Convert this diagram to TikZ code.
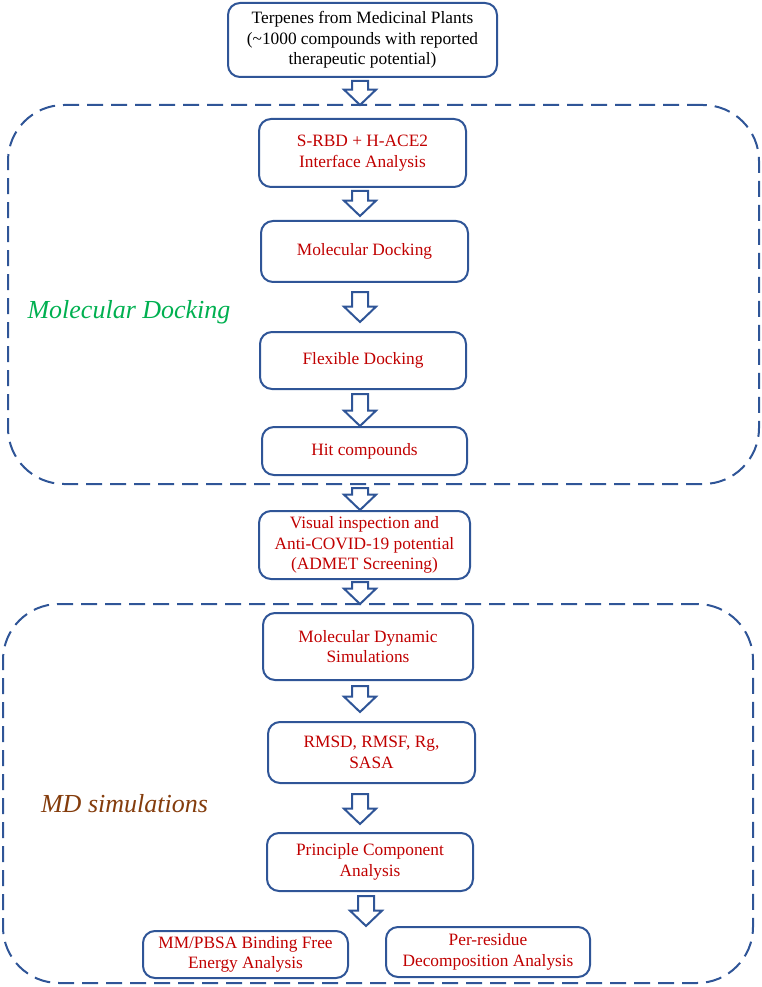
\documentclass[tikz,border=0pt]{standalone}
\usepackage{fontspec}
\setmainfont{Liberation Serif}
\usepackage{tikz}
\usetikzlibrary{calc}
\definecolor{flowblue}{RGB}{47,85,151}
\definecolor{flowred}{RGB}{192,0,0}
\definecolor{dockgreen}{RGB}{0,176,80}
\definecolor{mdbrown}{RGB}{132,60,12}
\tikzset{
	box/.style={draw=flowblue, line width=1.5pt, rounded corners=9pt, align=center, text=flowred, inner sep=0pt, font=\fontsize{13}{15.5}\selectfont},
	zone/.style={draw=flowblue, line width=1.5pt, dash pattern=on 12pt off 6pt, rounded corners=42pt, inner sep=0pt, outer sep=0pt},
	flowarrow/.style={draw=flowblue, fill=white, line width=1.5pt, line join=miter},
	zonelabel/.style={anchor=base, font=\fontsize{19.5}{22}\selectfont\itshape}
}
\newcommand{\blockarrow}[2]{\draw[flowarrow] let \p1=(#1), \p2=(#2) in (\x1-6pt,\y1) -- (\x1+6pt,\y1) -- (\x1+6pt,\y2+11.5pt) -- (\x1+12pt,\y2+11.5pt) -- (\x1,\y2) -- (\x1-12pt,\y2+11.5pt) -- (\x1-6pt,\y2+11.5pt) -- cycle;}

\begin{document}
\begin{tikzpicture}[x=0.75pt, y=-0.75pt]
		%%%%% START %%%%%
		\useasboundingbox (0,0) rectangle (762,987);
		\coordinate (spine) at (360,0);
		\coordinate (spinelow) at (366,0);
		
		% dashed zones
		\node[zone, minimum width=563.25pt, minimum height=284.25pt] (dockzone) at (383.5,294.5) {};
		\node[zone, minimum width=562.5pt, minimum height=284.25pt] (mdzone) at (378,793.5) {};
		\node[zonelabel, text=dockgreen] (docklabel) at (129,318) {Molecular Docking};
		\node[zonelabel, text=mdbrown] (mdlabel) at (124.5,812) {MD simulations};
		
		% steps
		\node[box, text=black, minimum width=201.75pt, minimum height=55.5pt] (top) at (362.5,40) {Terpenes from Medicinal Plants\\(\textasciitilde 1000 compounds with reported\\therapeutic potential)};
		\node[box, minimum width=155.25pt, minimum height=51pt] (srbd) at (362.5,153) {S-RBD + H-ACE2\\Interface Analysis};
		\node[box, minimum width=155.25pt, minimum height=45.75pt] (mdock) at (364.5,251.5) {Molecular Docking};
		\node[box, minimum width=154.5pt, minimum height=42.75pt] (flex) at (363,360.5) {Flexible Docking};
		\node[box, minimum width=153.75pt, minimum height=36pt] (hit) at (364.5,451) {Hit compounds};
		\node[box, minimum width=158.25pt, minimum height=51pt] (visual) at (364.5,545) {Visual inspection and\\Anti-COVID-19 potential\\(ADMET Screening)};
		\node[box, minimum width=157.5pt, minimum height=50.25pt] (mds) at (368,646.5) {Molecular Dynamic\\Simulations};
		\node[box, minimum width=155.25pt, minimum height=45.75pt] (rmsd) at (371.5,752.5) {RMSD, RMSF, Rg,\\SASA};
		\node[box, minimum width=154.5pt, minimum height=43.5pt] (pca) at (370,862) {Principle Component\\Analysis};
		\node[box, minimum width=153.75pt, minimum height=35.25pt] (mm) at (245.5,954.5) {MM/PBSA Binding Free\\Energy Analysis};
		\node[box, minimum width=153pt, minimum height=37.5pt] (per) at (488,952) {Per-residue\\Decomposition Analysis};
		
		% hollow arrows
		\blockarrow{$(spine |- top.south)+(0,3)$}{spine |- dockzone.north}
		\blockarrow{$(spine |- srbd.south)+(0,3)$}{$(spine |- mdock.north)+(0,-4)$}
		\blockarrow{$(spine |- mdock.south)+(0,9)$}{$(spine |- flex.north)+(0,-9)$}
		\blockarrow{$(spine |- flex.south)+(0,4)$}{spine |- hit.north}
		\blockarrow{$(spine |- dockzone.south)+(0,4)$}{spine |- visual.north}
		\blockarrow{$(spine |- visual.south)+(0,2)$}{spine |- mdzone.north}
		\blockarrow{$(spine |- mds.south)+(0,5)$}{$(spine |- rmsd.north)+(0,-9)$}
		\blockarrow{$(spine |- rmsd.south)+(0,10)$}{$(spine |- pca.north)+(0,-8)$}
		\blockarrow{$(spinelow |- pca.south)+(0,4)$}{spinelow |- per.north}
		%%%%% END %%%%%
\end{tikzpicture}
\end{document}
